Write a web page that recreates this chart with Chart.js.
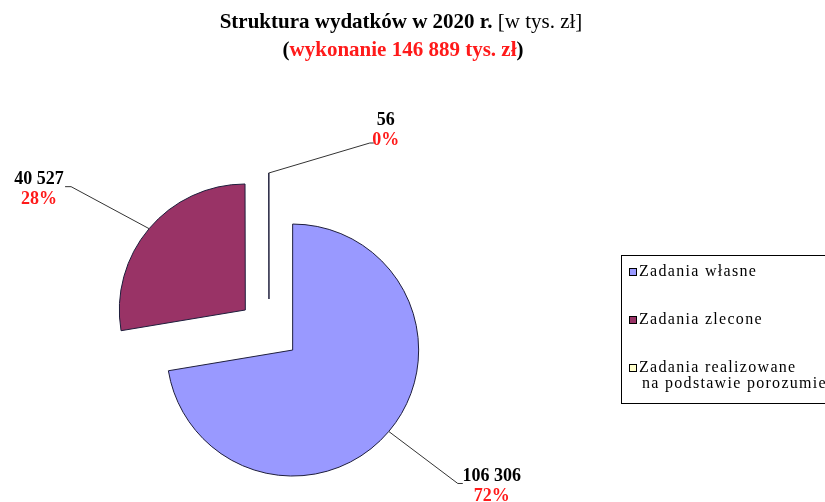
<!DOCTYPE html>
<html lang="pl">
<head>
<meta charset="utf-8">
<title>Struktura wydatków w 2020 r.</title>
<script src="https://cdn.jsdelivr.net/npm/chart.js@4.4.1/dist/chart.umd.min.js"></script>
<style>
    html, body { margin: 0; padding: 0; background: #fff; }
    canvas { display: block; }
</style>
</head>
<body>
<canvas id="chart" width="825" height="502"></canvas>
<script>
const categories = ['Zadania własne', 'Zadania zlecone', 'Zadania realizowane na podstawie porozumień'];
const legendLines = [['Zadania własne'], ['Zadania zlecone'], ['Zadania realizowane', 'na podstawie porozumień']];
const values = [106306, 40527, 56];
const sliceColors = ['#9999ff', '#993366', '#ffffcc'];

const SERIF = '"Liberation Serif", "Times New Roman", serif';
const RED = '#ff1a1a';
const EXPLODE = 31;

// leader line per slice: elbow offset from arc edge, tick length, text centre offset from elbow
const leaderLayout = [
    { dx: 69, dy: 52, tick: 5, tx: 34, ty: -7 },
    { dx: -78, dy: -42, tick: -6, tx: -32, ty: -7 },
    { dx: 101, dy: -30, tick: 4, tx: 16, ty: -23 },
];

const total = values.reduce((a, b) => a + b, 0);
const fmt = n => String(n).replace(/\B(?=(\d{3})+(?!\d))/g, ' ');

function drawRuns(ctx, runs, cx, baseline) {
    let width = 0;
    runs.forEach(r => { ctx.font = r.font; width += ctx.measureText(r.text).width; });
    let x = cx - width / 2;
    runs.forEach(r => {
        ctx.font = r.font;
        ctx.fillStyle = r.color;
        ctx.fillText(r.text, x, baseline);
        x += ctx.measureText(r.text).width;
    });
}

// Excel style explosion: every slice moved out along its mid angle
const explodePlugin = {
    id: 'explode',
    beforeDatasetDraw(chart, args) {
        const ctx = chart.ctx;
        args.meta.data.forEach(arc => {
            const mid = (arc.startAngle + arc.endAngle) / 2;
            ctx.save();
            ctx.translate(Math.cos(mid) * EXPLODE, Math.sin(mid) * EXPLODE);
            arc.draw(ctx);
            ctx.restore();
        });
        return false;
    },
};

const sliceLabels = {
    id: 'sliceLabels',
    afterDatasetsDraw(chart) {
        const ctx = chart.ctx;
        chart.getDatasetMeta(0).data.forEach((arc, i) => {
            const mid = (arc.startAngle + arc.endAngle) / 2;
            const r = arc.outerRadius;
            const ex = arc.x + Math.cos(mid) * (EXPLODE + r);
            const ey = arc.y + Math.sin(mid) * (EXPLODE + r);
            const l = leaderLayout[i];
            const bx = ex + l.dx, by = ey + l.dy;

            ctx.save();
            ctx.strokeStyle = '#333';
            ctx.lineWidth = 1;
            ctx.beginPath();
            ctx.moveTo(ex, ey);
            ctx.lineTo(bx, by);
            ctx.lineTo(bx + l.tick, by);
            ctx.stroke();

            ctx.font = 'bold 18px ' + SERIF;
            ctx.textAlign = 'center';
            ctx.textBaseline = 'middle';
            ctx.fillStyle = '#000';
            ctx.fillText(fmt(values[i]), bx + l.tx, by + l.ty);
            ctx.fillStyle = RED;
            ctx.fillText(Math.round(values[i] / total * 100) + '%', bx + l.tx, by + l.ty + 20);
            ctx.restore();
        });
    },
};

const titleAndLegend = {
    id: 'titleAndLegend',
    afterDraw(chart) {
        const ctx = chart.ctx;
        ctx.save();
        ctx.textAlign = 'left';
        ctx.textBaseline = 'alphabetic';
        drawRuns(ctx, [
            { text: 'Struktura wydatków w 2020 r. ', font: 'bold 21px ' + SERIF, color: '#000' },
            { text: '[w tys. zł]', font: '21px ' + SERIF, color: '#000' },
        ], 401, 28);
        drawRuns(ctx, [
            { text: '(', font: 'bold 21px ' + SERIF, color: '#000' },
            { text: 'wykonanie ' + fmt(total) + ' tys. zł', font: 'bold 21px ' + SERIF, color: RED },
            { text: ')', font: 'bold 21px ' + SERIF, color: '#000' },
        ], 403, 56);

        // legend box, cut by the right edge as in the original
        ctx.strokeStyle = '#000';
        ctx.lineWidth = 1;
        ctx.strokeRect(621.5, 255.5, 230, 148);
        ctx.font = '16px ' + SERIF;
        ctx.letterSpacing = '1.3px';
        ctx.textBaseline = 'middle';
        const rowY = [272, 320, 368];
        legendLines.forEach((lines, i) => {
            ctx.fillStyle = sliceColors[i];
            ctx.fillRect(629, rowY[i] - 4, 8, 8);
            ctx.strokeRect(629.5, rowY[i] - 3.5, 7, 7);
            ctx.fillStyle = '#000';
            lines.forEach((txt, k) => {
                ctx.fillText(txt, k === 0 ? 639 : 642, rowY[i] + k * 16);
            });
        });
        ctx.restore();
    },
};

new Chart(document.getElementById('chart'), {
    type: 'pie',
    data: {
        labels: categories,
        datasets: [{
            data: values,
            backgroundColor: sliceColors,
            borderColor: '#1e1e3c',
            borderWidth: 1,
        }],
    },
    options: {
        responsive: false,
        animation: false,
        devicePixelRatio: 1,
        radius: 126,
        layout: { padding: { left: 0, right: 287, top: 160, bottom: 2 } },
        plugins: {
            legend: { display: false },
            title: { display: false },
            tooltip: { enabled: false },
        },
    },
    plugins: [explodePlugin, sliceLabels, titleAndLegend],
});
</script>
</body>
</html>
